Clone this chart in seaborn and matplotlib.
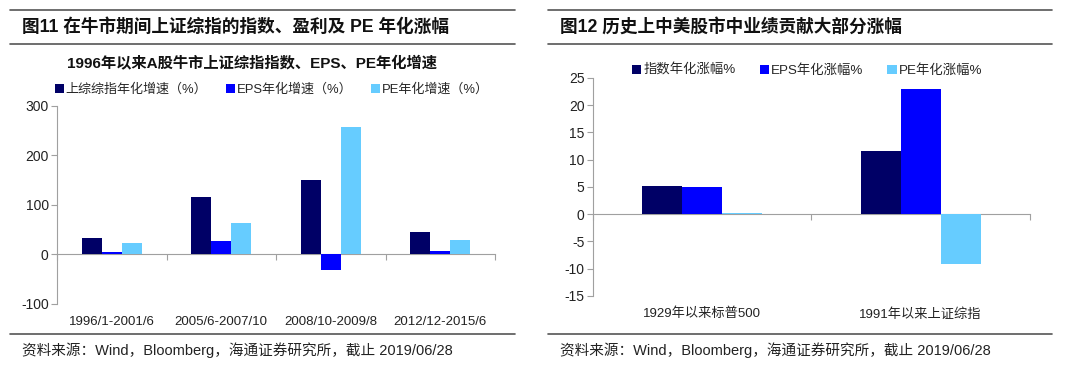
import pandas as pd
import matplotlib
matplotlib.use("Agg")
import matplotlib.pyplot as plt
from matplotlib.lines import Line2D
import seaborn as sns

# left panel: A-share bull markets
bull_periods = ["1996/1-2001/6", "2005/6-2007/10", "2008/10-2009/8", "2012/12-2015/6"]
index_growth = [33, 116, 150, 45]
eps_growth = [5, 28, -32, 7]
pe_growth = [23, 64, 257, 30]
left_series = ["上综综指年化增速（%）", "EPS年化增速（%）", "PE年化增速（%）"]

# right panel: long-run US / China
markets = ["1929年以来标普500", "1991年以来上证综指"]
index_ann = [5.2, 11.6]
eps_ann = [5.0, 22.9]
pe_ann = [0.2, -9.1]
right_series = ["指数年化涨幅%", "EPS年化涨幅%", "PE年化涨幅%"]

colors = ["#000066", "#0000FF", "#66CCFF"]

sns.set_style("white")
plt.rcParams['font.family'] = ['Liberation Sans', 'Noto Sans CJK SC']
plt.rcParams['axes.unicode_minus'] = False


def long_df(cats, series, cols):
    rows = []
    for name, vals in zip(series, cols):
        for c, v in zip(cats, vals):
            rows.append({"cat": c, "series": name, "value": v})
    return pd.DataFrame(rows)


def draw_panel(ax, df, cats, series, ylim, yticks):
    sns.barplot(data=df, x="cat", y="value", hue="series", order=cats,
                hue_order=series, palette=colors, width=0.55, saturation=1,
                edgecolor="none", linewidth=0, ax=ax, legend=True)
    ax.set_ylim(*ylim)
    ax.set_xlim(-0.5, len(cats) - 0.5)
    ax.set_yticks(yticks)
    ax.set_xlabel("")
    ax.set_ylabel("")
    for s in ["top", "right", "bottom"]:
        ax.spines[s].set_visible(False)
    ax.spines["left"].set_color("#A0A0A0")
    ax.spines["left"].set_linewidth(0.8)
    ax.tick_params(axis="y", length=4, color="#A0A0A0", labelsize=10,
                   labelcolor="#222222", left=True, pad=2)
    ax.tick_params(axis="x", length=0, labelsize=9.5, labelcolor="#222222", pad=12)
    for lab in ax.get_xticklabels():
        lab.set_verticalalignment("center_baseline")
    # zero line with category boundary ticks
    zpos = (0 - ylim[0]) / (ylim[1] - ylim[0])
    sec = ax.secondary_xaxis(zpos)
    sec.set_xticks([i - 0.5 for i in range(len(cats) + 1)])
    sec.set_xticklabels([])
    sec.tick_params(length=4, color="#A0A0A0", direction="out")
    for s in ["top", "left", "right"]:
        sec.spines[s].set_visible(False)
    sec.spines["bottom"].set_color("#A0A0A0")
    sec.spines["bottom"].set_linewidth(0.8)


fig = plt.figure(figsize=(10.8, 3.71), dpi=100)

axl = fig.add_axes([0.0528, 0.1806, 0.4056, 0.5337])
draw_panel(axl, long_df(bull_periods, left_series, [index_growth, eps_growth, pe_growth]),
           bull_periods, left_series, (-100, 300), [-100, 0, 100, 200, 300])
axl.legend(loc="lower center", bbox_to_anchor=(0.49, 1.005), ncol=3, frameon=False,
           fontsize=9.4, handlelength=0.7, handleheight=0.7, handletextpad=0.15,
           columnspacing=1.4, borderaxespad=0.3)

axr = fig.add_axes([0.549, 0.2022, 0.4046, 0.5876])
draw_panel(axr, long_df(markets, right_series, [index_ann, eps_ann, pe_ann]),
           markets, right_series, (-15, 25), list(range(-15, 26, 5)))
axr.legend(loc="upper center", bbox_to_anchor=(0.49, 1.12), ncol=3, frameon=False,
           fontsize=9.6, handlelength=0.7, handleheight=0.7, handletextpad=0.15,
           columnspacing=1.8)

# headers and rules
line_kw = dict(color="#555555", linewidth=1.2)
for x0, x1 in [(10, 515), (548, 1052)]:
    for yy in [10, 44, 334]:
        fig.add_artist(Line2D([x0 / 1080, x1 / 1080], [1 - yy / 371, 1 - yy / 371], **line_kw))

fig.text(22 / 1080, 1 - 27 / 371, "图11 在牛市期间上证综指的指数、盈利及 PE 年化涨幅",
         fontsize=12.7, fontweight="bold", va="center", ha="left", color="#111111")
fig.text(560 / 1080, 1 - 27 / 371, "图12 历史上中美股市中业绩贡献大部分涨幅",
         fontsize=12.7, fontweight="bold", va="center", ha="left", color="#111111")
fig.text(252 / 1080, 1 - 64 / 371, "1996年以来A股牛市上证综指指数、EPS、PE年化增速",
         fontsize=11, fontweight="bold", va="center", ha="center", color="#111111")

source = "资料来源：Wind，Bloomberg，海通证券研究所，截止 2019/06/28"
fig.text(22 / 1080, 1 - 350 / 371, source, fontsize=10.5, va="center", ha="left", color="#222222")
fig.text(560 / 1080, 1 - 350 / 371, source, fontsize=10.5, va="center", ha="left", color="#222222")

fig.savefig("out.png", dpi=100)
